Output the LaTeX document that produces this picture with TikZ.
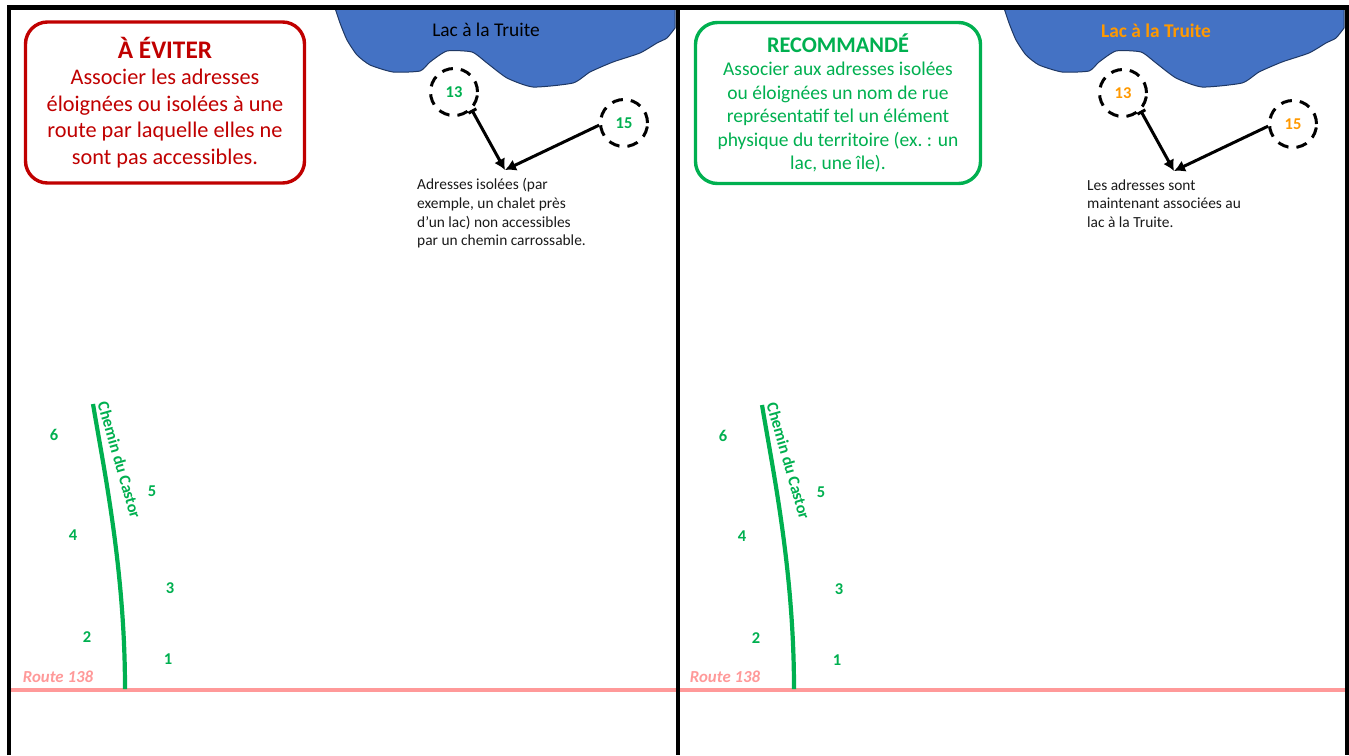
\documentclass[tikz,border=0pt]{standalone}
\usepackage{fontspec}
\setmainfont{Carlito}
\usetikzlibrary{arrows.meta}
\definecolor{redc}{HTML}{C00000}
\definecolor{greenc}{HTML}{00B050}
\definecolor{orangec}{HTML}{FF9900}
\definecolor{lakec}{HTML}{4472C4}
\definecolor{lakeb}{HTML}{1F3864}
\definecolor{routec}{HTML}{FF9999}
\definecolor{txtc}{HTML}{1A1A1A}
\tikzset{
  frameline/.style={line width=4.2pt,black},
  lakeshape/.style={fill=lakec,draw=lakeb,line width=1pt},
  msgbox/.style={draw=#1,text=#1,line width=3.4pt,rounded corners=22pt,align=center,fill=white,inner sep=0pt},
  addr/.style={draw=black,line width=3pt,dash pattern=on 11pt off 8pt,circle,minimum size=47pt,inner sep=0pt,font=\fontsize{16.5}{18}\selectfont\bfseries},
  link/.style={line width=3pt,black,-{Latex[length=11pt,width=12pt]}},
  linkbar/.style={line width=3pt,black,{Bar[width=9pt,length=1pt]}-{Latex[length=11pt,width=12pt]}},
  note/.style={anchor=north west,align=left,inner sep=0pt,text=txtc,font=\fontsize{15.4}{18.6}\selectfont},
  num/.style={text=greenc,font=\fontsize{16.5}{18}\selectfont\bfseries,inner sep=0pt},
  road/.style={draw=greenc,line width=4.2pt},
  routeline/.style={draw=routec,line width=4pt},
  routelab/.style={text=routec,font=\fontsize{16.8}{19}\selectfont\bfseries\itshape,inner sep=0pt},
  roadlab/.style={text=greenc,font=\fontsize{16.4}{18}\selectfont\bfseries,inner sep=0pt,rotate=-74},
}
\newcommand{\lakeoutline}{plot[smooth,tension=0.35] coordinates {(335,8) (340,23) (347,40) (357,55) (370,65) (393,72) (420,71) (430,62) (447,51) (472,52) (487,63) (507,78) (533,87) (573,83) (590,72) (613,62) (640,53) (657,43) (667,38) (675,28)} -- (675,8) -- cycle}
\begin{document}
\begin{tikzpicture}[x=1pt,y=-1pt]
\useasboundingbox (0,0) rectangle (1349,755);
\fill[white] (0,0) rectangle (1349,755);
% lakes
\path[lakeshape] \lakeoutline;
\begin{scope}[xshift=669pt]
\path[lakeshape] \lakeoutline;
\end{scope}
% routes
\draw[routeline] (11,690) -- (1345,690);
% frame
\draw[frameline] (9,755) -- (9,7.5) -- (1347,7.5) -- (1347,755);
\draw[frameline] (678,7.5) -- (678,755);
\node[routelab] (routeL) at (58,677) {Route 138};
\node[routelab] (routeR) at (725,677) {Route 138};
% roads
\draw[road] (93,404) .. controls (104,470) and (125,570) .. (125,689);
\draw[road] (762,405) .. controls (773,471) and (794,571) .. (794,689);
\node[roadlab] (castorL) at (119.5,460) {Chemin du Castor};
\node[roadlab] (castorR) at (788.5,461) {Chemin du Castor};
% boxes
\node[msgbox=redc,minimum width=279pt,minimum height=161pt,
  font=\fontsize{22.3}{26.6}\selectfont] (avoid) at (165,102.5)
  {{\fontsize{25.3}{28}\selectfont\bfseries À ÉVITER}\\Associer les adresses\\éloignées ou isolées à une\\route par laquelle elles ne\\sont pas accessibles.};
\node[msgbox=greenc,minimum width=285pt,minimum height=161pt,
  font=\fontsize{19.5}{23.5}\selectfont] (reco) at (838,103)
  {{\fontsize{22.3}{25}\selectfont\bfseries RECOMMANDÉ}\\Associer aux adresses isolées\\ou éloignées un nom de rue\\représentatif tel un élément\\physique du territoire (ex.~: un\\lac, une île).};
% lake names
\node[font=\fontsize{19.4}{21}\selectfont,text=black,inner sep=0pt] (lakeL) at (486,30) {Lac à la Truite};
\node[font=\fontsize{19.4}{21}\selectfont\bfseries,text=orangec,inner sep=0pt] (lakeR) at (1156,31) {Lac à la Truite};
% left addresses
\node[addr,text=greenc] (a13) at (454,92) {13};
\node[addr,text=greenc] (a15) at (624,123) {15};
\coordinate (tipL) at (505,170);
\draw[linkbar] (a13.-45) -- (tipL);
\draw[link] (a15.185) -- (tipL);
\node[note] (noteL) at (417,178.5) {Adresses isolées (par\\exemple, un chalet près\\d’un lac) non accessibles\\par un chemin carrossable.};
% right addresses
\node[addr,text=orangec] (b13) at (1123,93) {13};
\node[addr,text=orangec] (b15) at (1293,124) {15};
\coordinate (tipR) at (1174,171);
\draw[linkbar] (b13.-45) -- (tipR);
\draw[link] (b15.185) -- (tipR);
\node[note] (noteR) at (1087,179.5) {Les adresses sont\\maintenant associées au\\lac à la Truite.};
% numbers
\node[num] (n6) at (54,435) {6};
\node[num] (n5) at (152,491) {5};
\node[num] (n4) at (73,535) {4};
\node[num] (n3) at (170,588) {3};
\node[num] (n2) at (87,637) {2};
\node[num] (n1) at (168,659) {1};
\node[num] (m6) at (723,436) {6};
\node[num] (m5) at (821,492) {5};
\node[num] (m4) at (742,536) {4};
\node[num] (m3) at (839,589) {3};
\node[num] (m2) at (756,638) {2};
\node[num] (m1) at (837,660) {1};
\end{tikzpicture}
\end{document}
